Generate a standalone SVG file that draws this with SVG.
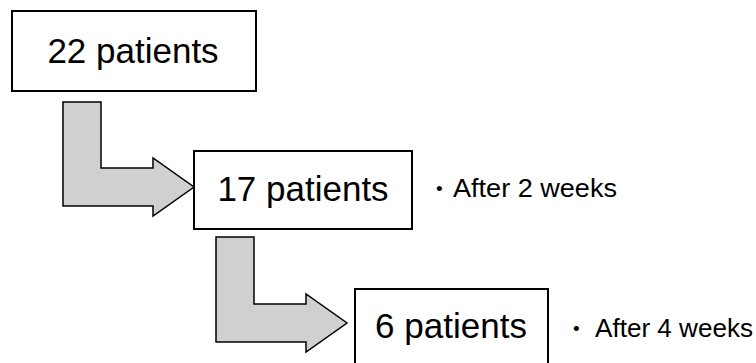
<svg xmlns="http://www.w3.org/2000/svg" width="756" height="363" viewBox="0 0 756 363">
<style>
.box{fill:#fff;stroke:#000;stroke-width:2}
.arrow{fill:#d0d0d0;stroke:#000;stroke-width:1.5;stroke-linejoin:miter}
.big{font-family:"Liberation Sans",Arial,sans-serif;font-size:35px;fill:#000;text-anchor:middle}
.note{font-family:"Liberation Sans",Arial,sans-serif;font-size:25px;fill:#000}
.bul{font-size:19px}
</style>
<rect width="756" height="363" fill="#fff"/>
<g id="connectors">
<polygon class="arrow" points="63,102 101,102 101,168 153,168 153,158 194,187 153,216 153,206 63,206"/>
<polygon class="arrow" points="216,237 254,237 254,304 306,304 306,294 347,323 306,352 306,342 216,342"/>
</g>
<g id="node1">
<rect class="box" x="12" y="11" width="244" height="80"/>
<text class="big" x="133" y="63">22 patients</text>
</g>
<g id="node2">
<rect class="box" x="194" y="151" width="218" height="78"/>
<text class="big" x="303" y="201">17 patients</text>
</g>
<g id="node3">
<rect class="box" x="355" y="289" width="193" height="82"/>
<text class="big" x="451" y="338">6 patients</text>
</g>
<g id="note1">
<text class="note" y="195"><tspan class="bul" x="436">•</tspan><tspan x="453" y="197" textLength="164" lengthAdjust="spacingAndGlyphs">After 2 weeks</tspan></text>
</g>
<g id="note2">
<text class="note" y="335"><tspan class="bul" x="573">•</tspan><tspan x="595" y="337" textLength="158" lengthAdjust="spacingAndGlyphs">After 4 weeks</tspan></text>
</g>
</svg>
